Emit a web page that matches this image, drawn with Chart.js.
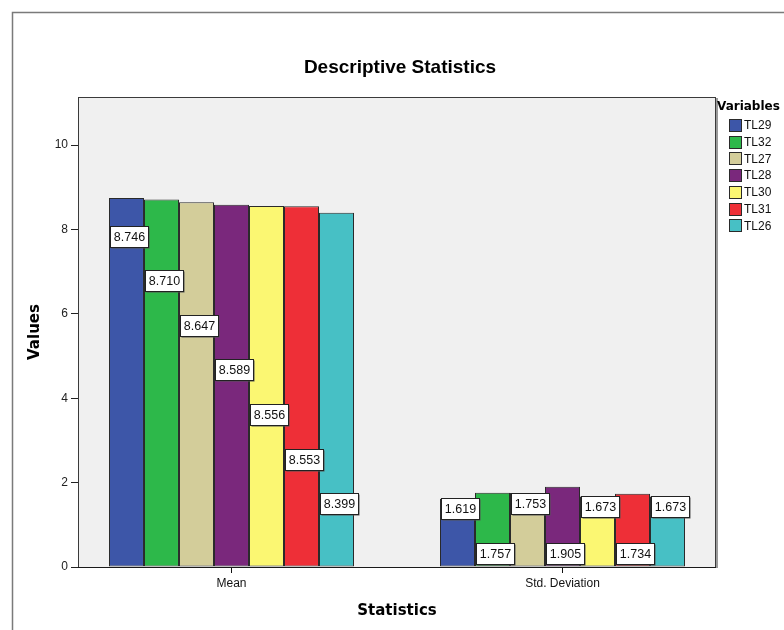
<!DOCTYPE html>
<html>
<head>
<meta charset="utf-8">
<script src="https://cdn.jsdelivr.net/npm/chart.js@4/dist/chart.umd.min.js"></script>
<style>
  html, body { margin: 0; padding: 0; background: #ffffff; }
  #wrap { width: 784px; height: 630px; position: relative; }
</style>
</head>
<body>
<div id="wrap"><canvas id="c" width="784" height="630"></canvas></div>
<script>
// ---- data ----
const categories = ['Mean', 'Std. Deviation'];
const variables = ['TL29', 'TL32', 'TL27', 'TL28', 'TL30', 'TL31', 'TL26'];
const tl29 = [8.746, 1.619];
const tl32 = [8.710, 1.757];
const tl27 = [8.647, 1.753];
const tl28 = [8.589, 1.905];
const tl30 = [8.556, 1.673];
const tl31 = [8.553, 1.734];
const tl26 = [8.399, 1.673];
const yTickValues = [0, 2, 4, 6, 8, 10];
const seriesValues = [tl29, tl32, tl27, tl28, tl30, tl31, tl26];
const seriesColors = ['#3d56a8', '#2db84a', '#d3cd9a', '#7a287c', '#fbf772', '#ee2f37', '#47c0c5'];

const FONT = "'Liberation Sans', Arial, sans-serif";
const FONT_B = "'DejaVu Sans', Verdana, sans-serif";

const datasets = variables.map((name, k) => ({
  label: name,
  data: seriesValues[k].map((v, i) => ({ x: i, y: v })),
  backgroundColor: seriesColors[k],
  borderColor: '#2a2a2a',
  borderWidth: 1,
  borderSkipped: false,
  categoryPercentage: 0.7402,
  barPercentage: 1
}));

const decor = {
  id: 'decor',
  beforeDraw(chart) {
    const ctx = chart.ctx, a = chart.chartArea;
    ctx.save();
    ctx.fillStyle = '#ffffff';
    ctx.fillRect(0, 0, chart.width, chart.height);
    // outer frame
    ctx.strokeStyle = '#7a7a7a';
    ctx.lineWidth = 1.5;
    ctx.beginPath();
    ctx.moveTo(12.5, chart.height);
    ctx.lineTo(12.5, 12.5);
    ctx.lineTo(chart.width, 12.5);
    ctx.stroke();
    // plot background
    ctx.fillStyle = '#f0f0f0';
    ctx.fillRect(a.left, a.top, a.right - a.left, a.bottom - a.top);
    ctx.restore();
  },
  afterDatasetsDraw(chart) {
    const ctx = chart.ctx, a = chart.chartArea;
    ctx.save();
    // plot box border
    ctx.strokeStyle = '#9a9a9a';
    ctx.lineWidth = 2;
    ctx.beginPath();
    ctx.moveTo(a.right + 1, a.top + 1);
    ctx.lineTo(a.right + 1, a.bottom + 1);
    ctx.stroke();
    ctx.strokeStyle = '#3a3a3a';
    ctx.lineWidth = 1;
    ctx.strokeRect(a.left + 0.5, a.top + 0.5, a.right - a.left - 1, a.bottom - a.top);
    ctx.strokeStyle = '#1a1a1a';
    ctx.beginPath();
    ctx.moveTo(a.left, a.bottom + 0.5);
    ctx.lineTo(a.right, a.bottom + 0.5);
    ctx.stroke();

    // value labels
    ctx.font = '12.5px ' + FONT;
    ctx.textAlign = 'center';
    ctx.textBaseline = 'middle';
    const bw = 38, bh = 21;
    chart.data.datasets.forEach((ds, k) => {
      const meta = chart.getDatasetMeta(k);
      meta.data.forEach((bar, i) => {
        const v = ds.data[i].y;
        const left = bar.x - bar.width / 2 + 1;
        let cy;
        if (i === 0) {
          cy = a.top + 139 + k * 44.6;
        } else {
          cy = (k % 2 === 0) ? bar.y + 10 : a.bottom - 14;
        }
        const x0 = Math.round(left) + 0.5, y0 = Math.round(cy - bh / 2) + 0.5;
        ctx.fillStyle = '#555555';
        ctx.fillRect(x0 + 1, y0 + 1, bw, bh);
        ctx.fillStyle = '#ffffff';
        ctx.fillRect(x0, y0, bw, bh);
        ctx.strokeStyle = '#222222';
        ctx.lineWidth = 1;
        ctx.strokeRect(x0, y0, bw, bh);
        ctx.fillStyle = '#111111';
        ctx.fillText(v.toFixed(3), x0 + bw / 2, y0 + bh / 2 + 1);
      });
    });
    ctx.restore();
  },
  afterDraw(chart) {
    const ctx = chart.ctx;
    ctx.save();
    ctx.fillStyle = '#000000';
    ctx.textAlign = 'center';
    ctx.textBaseline = 'middle';
    ctx.font = 'bold 19px ' + FONT;
    ctx.fillText('Descriptive Statistics', 400, 68);
    ctx.font = 'bold 15px ' + FONT_B;
    ctx.fillText('Statistics', 397, 611);
    ctx.save();
    ctx.translate(35, 332);
    ctx.rotate(-Math.PI / 2);
    ctx.fillText('Values', 0, 0);
    ctx.restore();
    // legend
    ctx.textAlign = 'left';
    ctx.font = 'bold 12px ' + FONT_B;
    ctx.fillText('Variables', 717, 107);
    ctx.font = '12px ' + FONT;
    chart.data.datasets.forEach((ds, k) => {
      const cy = 125 + k * 16.7;
      ctx.fillStyle = ds.backgroundColor;
      ctx.fillRect(729.5, Math.round(cy - 6) + 0.5, 12, 12);
      ctx.strokeStyle = '#2a2a2a';
      ctx.lineWidth = 1;
      ctx.strokeRect(729.5, Math.round(cy - 6) + 0.5, 12, 12);
      ctx.fillStyle = '#111111';
      ctx.fillText(ds.label, 744, cy + 1);
    });
    ctx.restore();
  }
};

new Chart(document.getElementById('c'), {
  type: 'bar',
  data: { datasets },
  options: {
    responsive: false,
    animation: false,
    devicePixelRatio: 1,
    layout: { padding: { top: 97, right: 68, left: 0, bottom: 0 } },
    plugins: { legend: { display: false }, title: { display: false }, tooltip: { enabled: false } },
    scales: {
      x: {
        type: 'linear',
        min: -0.4637,
        max: 1.4637,
        offset: false,
        afterFit(s) { s.height = 63; },
        afterBuildTicks(s) { s.ticks = categories.map((c, i) => ({ value: i })); },
        ticks: {
          autoSkip: false,
          maxRotation: 0,
          padding: 3,
          color: '#111111',
          font: { family: FONT, size: 12 },
          callback: (v) => categories[v] !== undefined ? categories[v] : ''
        },
        grid: { display: true, offset: false, drawOnChartArea: false, drawTicks: true, tickLength: 6, tickColor: '#111111', tickWidth: 1 },
        border: { display: false }
      },
      y: {
        min: 0,
        max: 11.14,
        afterFit(s) { s.width = 78; },
        afterBuildTicks(s) { s.ticks = yTickValues.map(v => ({ value: v })); },
        ticks: {
          padding: 3,
          color: '#222222',
          font: { family: FONT, size: 12 },
          callback: (v) => String(v)
        },
        grid: { display: true, drawOnChartArea: false, drawTicks: true, tickLength: 7, tickColor: '#222222', tickWidth: 1 },
        border: { display: false }
      }
    }
  },
  plugins: [decor]
});
</script>
</body>
</html>
